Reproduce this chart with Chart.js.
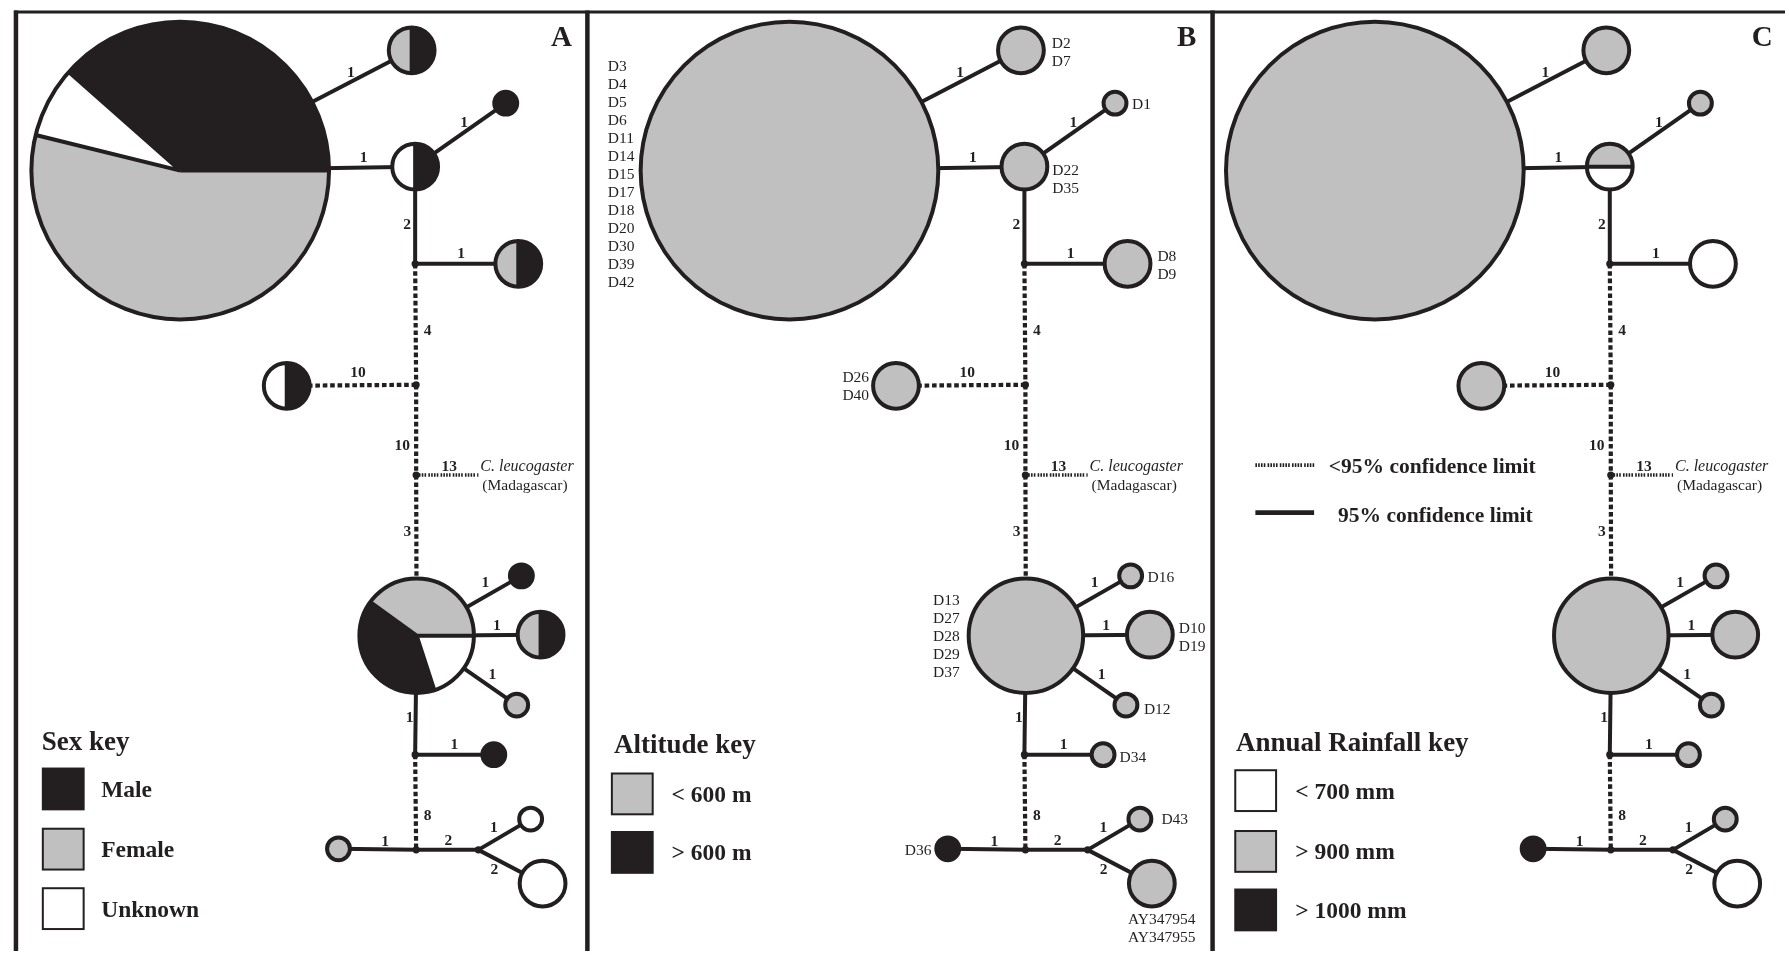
<!DOCTYPE html>
<html>
<head>
<meta charset="utf-8">
<title>Haplotype network</title>
<script src="https://cdn.jsdelivr.net/npm/chart.js@4.4.1/dist/chart.umd.min.js"></script>
<style>
  html, body { margin: 0; padding: 0; background: #ffffff; overflow: hidden; }
  canvas { display: block; }
</style>
</head>
<body>
<canvas id="net" width="1789" height="955"></canvas>
<script>
// ---- Haplotypes and the specimens carrying each one ----
const haplotypes = ['H1','H2','H3','H4','H5','H6','H7','H8','H9','H10','H11','H12','H13','H14'];
const specimens = [
  ['D3','D4','D5','D6','D11','D14','D15','D17','D18','D20','D30','D39','D42'],
  ['D2','D7'],
  ['D22','D35'],
  ['D1'],
  ['D8','D9'],
  ['D26','D40'],
  ['D13','D27','D28','D29','D37'],
  ['D16'],
  ['D10','D19'],
  ['D12'],
  ['D34'],
  ['D36'],
  ['D43'],
  ['AY347954','AY347955']
];
const sampleCounts = specimens.map(s => s.length);

// ---- Network layout (chart units, first panel) ----
const nodeX = [177, 409.5, 413, 504, 516.6, 284, 414.5, 519.7, 539, 515, 492, 336, 529, 541];
const nodeY = [168, 46.7, 164, 100, 262, 385, 637, 576.7, 636, 707, 757, 852, 822, 887];
const junctionIds = ['J1','J2','J3','J4','J5','J6','OUT'];
const junctionX = [413, 414, 414, 413, 414, 476.5, 476.5];
const junctionY = [262, 384, 475, 757, 853, 853, 475];

// ---- Links: mutational steps and support ----
const linkFrom = ['H1','H1','H3','H3','J1','J1','J2','J2','J3','J3','H7','H7','H7','H7','J4','J4','J5','J5','J6','J6'];
const linkTo   = ['H2','H3','H4','J1','H5','J2','H6','J3','OUT','H7','H8','H9','H10','J4','H11','J5','H12','J6','H13','H14'];
const linkSteps = [1,1,1,2,1,4,10,10,13,3,1,1,1,1,1,8,1,2,1,2];
const linkSupport = ['in','in','in','in','in','out','out','out','outgroup','out','in','in','in','in','in','out','in','in','in','in'];

// ---- Sex ----
const sexMale    = [5,1,1,1,1,1,2,1,1,0,1,0,0,0];
const sexFemale  = [7,1,0,0,1,0,2,0,1,1,0,1,0,0];
const sexUnknown = [1,0,1,0,0,1,1,0,0,0,0,0,1,2];
// ---- Altitude ----
const altBelow600 = [13,2,2,1,2,2,5,1,2,1,1,0,1,2];
const altAbove600 = [0,0,0,0,0,0,0,0,0,0,0,1,0,0];
// ---- Annual rainfall ----
const rainBelow700  = [0,0,1,0,2,0,0,0,0,0,0,0,0,2];
const rainAbove900  = [13,2,1,1,0,2,5,1,2,1,1,0,1,0];
const rainAbove1000 = [0,0,0,0,0,0,0,0,0,0,0,1,0,0];

// ---- Styling ----
const INK = '#231f20', GREY = '#c0c0c0', PAPER = '#ffffff';
const SERIF = '"Liberation Serif", "Times New Roman", serif';
const OUTLINE = 4;
const radiusFor = n => 11.5 * n;
const linkStyle = {
  in:       { width: 4,   dash: [] },
  out:      { width: 4.2, dash: [4.6, 2.8] },
  outgroup: { width: 3.4, dash: [1.6, 1.2, 1.6, 1.2, 1.6, 1.2, 1.6, 2.2] }
};
// label offset from the visible middle of each link
const stepLabelOffset = [[-1,-10],[3,-10.5],[-1,-10],[-8,-3],[6,-11],[12,6],[-5,-13],[-14,15],[2,-9],[-9,4],
                         [-3.5,-12.5],[1,-10],[7,-9],[-6,-7],[5.6,-10.3],[12,13],[2,-9],[1,-10],[-5.6,-10],[-6,7.7]];
// specimen label placement: [align, dx, dy]
const specimenPlacement = [['left',-182.5,4.5],['left',31,3],['left',28,13.5],['left',17,2],['left',30,2],
  ['right',-27,1.5],['right',-66.5,1],['left',17,2],['left',29,3],['left',18,4.7],['left',16.6,3],
  ['right',-16.3,2],['left',21.6,1],['center',10,46]];

const panels = [
  { letter: 'A', shift: 0, right: 586,
    classes: [ { label: 'Male', color: INK, counts: sexMale },
               { label: 'Female', color: GREY, counts: sexFemale },
               { label: 'Unknown', color: PAPER, counts: sexUnknown } ],
    sliceStart: 90, sliceOrder: [1, 2, 0],
    sliceOverride: { H1: { start: 0, order: [0, 2, 1] }, H7: { start: 0, order: [1, 0, 2] } },
    key: { title: 'Sex key', titleX: 38, titleY: 745, boxX: 39, boxY: [771, 831.7, 891.7], textX: 97.6 },
    names: false },
  { letter: 'B', shift: 612, right: 1214,
    classes: [ { label: '< 600 m', color: GREY, counts: altBelow600 },
               { label: '> 600 m', color: INK, counts: altAbove600 } ],
    sliceStart: 90, sliceOrder: [0, 1], sliceOverride: {},
    key: { title: 'Altitude key', titleX: 612.7, titleY: 748, boxX: 610.6, boxY: [776, 835], textX: 670.6 },
    names: true },
  { letter: 'C', shift: 1200, right: 1792,
    classes: [ { label: '< 700 mm', color: PAPER, counts: rainBelow700 },
               { label: '> 900 mm', color: GREY, counts: rainAbove900 },
               { label: '> 1000 mm', color: INK, counts: rainAbove1000 } ],
    sliceStart: 90, sliceOrder: [1, 0, 2],
    sliceOverride: { H3: { start: 0, order: [1, 0, 2] } },
    key: { title: 'Annual Rainfall key', titleX: 1237.6, titleY: 746.7, boxX: 1236.8, boxY: [772.7, 834, 893], textX: 1297 },
    names: false }
];
const panelEdges = [12, 586, 1214];

// ---- Geometry helpers ----
function pointOf(id) {
  const h = haplotypes.indexOf(id);
  if (h >= 0) return { x: nodeX[h], y: nodeY[h], r: radiusFor(sampleCounts[h]) };
  const j = junctionIds.indexOf(id);
  return { x: junctionX[j], y: junctionY[j], r: 0 };
}

// ---- Datasets: junction dots and links for each panel ----
const datasets = [];
datasets.push({
  label: 'junctions',
  data: panels.flatMap(p => junctionIds.filter(id => id !== 'OUT')
    .map(id => ({ x: pointOf(id).x + p.shift, y: pointOf(id).y }))),
  pointRadius: 3.6, pointBackgroundColor: INK, pointBorderWidth: 0,
  showLine: false, clip: false
});
panels.forEach(p => {
  linkFrom.forEach((from, i) => {
    const a = pointOf(from), b = pointOf(linkTo[i]);
    const st = linkStyle[linkSupport[i]];
    datasets.push({
      label: p.letter + ':' + from + '-' + linkTo[i],
      data: [{ x: a.x + p.shift, y: a.y }, { x: b.x + p.shift, y: b.y }],
      showLine: true, borderColor: INK, borderWidth: st.width, borderDash: st.dash,
      borderCapStyle: 'butt', pointRadius: 0, pointHoverRadius: 0, clip: false
    });
  });
});

// ---- Drawing of pie nodes, text and keys ----
function drawPie(ctx, cx, cy, r, slices, startDeg) {
  const total = slices.reduce((s, v) => s + v.n, 0);
  let a = startDeg * Math.PI / 180;
  const cuts = [];
  slices.filter(s => s.n > 0).forEach(s => {
    const a2 = a + s.n / total * 2 * Math.PI;
    ctx.beginPath();
    ctx.moveTo(cx, cy);
    ctx.arc(cx, cy, r, -a, -a2, true);
    ctx.closePath();
    ctx.fillStyle = s.color;
    ctx.fill();
    cuts.push(a);
    a = a2;
  });
  ctx.strokeStyle = INK;
  ctx.lineWidth = OUTLINE;
  if (cuts.length > 1) {
    ctx.beginPath();
    cuts.forEach(c => { ctx.moveTo(cx, cy); ctx.lineTo(cx + r * Math.cos(c), cy - r * Math.sin(c)); });
    ctx.stroke();
  }
  ctx.beginPath();
  ctx.arc(cx, cy, r, 0, 2 * Math.PI);
  ctx.stroke();
}

const networkPlugin = {
  id: 'network',
  beforeDatasetsDraw(chart) {
    const ctx = chart.ctx;
    const sx = chart.scales.x, sy = chart.scales.y;
    ctx.save();
    ctx.fillStyle = '#ffffff';
    ctx.fillRect(0, 0, chart.width, chart.height);
    ctx.strokeStyle = INK;
    ctx.lineWidth = 3;
    ctx.beginPath();
    ctx.moveTo(sx.getPixelForValue(10), sy.getPixelForValue(8));
    ctx.lineTo(sx.getPixelForValue(1789), sy.getPixelForValue(8));
    ctx.stroke();
    ctx.lineWidth = 4.5;
    panelEdges.forEach(x => {
      ctx.beginPath();
      ctx.moveTo(sx.getPixelForValue(x), sy.getPixelForValue(6.5));
      ctx.lineTo(sx.getPixelForValue(x), sy.getPixelForValue(955));
      ctx.stroke();
    });
    ctx.restore();
  },
  afterDatasetsDraw(chart) {
    const ctx = chart.ctx;
    const sx = chart.scales.x, sy = chart.scales.y;
    const px = (x) => sx.getPixelForValue(x);
    const py = (y) => sy.getPixelForValue(y);
    const len = (d) => Math.abs(sx.getPixelForValue(d) - sx.getPixelForValue(0));
    ctx.save();

    panels.forEach(p => {
      // haplotype pies
      haplotypes.forEach((h, i) => {
        const ov = p.sliceOverride[h] || {};
        const order = ov.order || p.sliceOrder;
        const start = ov.start !== undefined ? ov.start : p.sliceStart;
        const slices = order.filter(k => k < p.classes.length)
          .map(k => ({ n: p.classes[k].counts[i], color: p.classes[k].color }));
        drawPie(ctx, px(nodeX[i] + p.shift), py(nodeY[i]), len(radiusFor(sampleCounts[i])), slices, start);
      });

      // mutational step counts
      ctx.fillStyle = INK;
      ctx.font = 'bold 15.5px ' + SERIF;
      ctx.textAlign = 'center';
      ctx.textBaseline = 'middle';
      linkFrom.forEach((from, i) => {
        const a = pointOf(from), b = pointOf(linkTo[i]);
        const dx = b.x - a.x, dy = b.y - a.y, L = Math.hypot(dx, dy);
        const ux = dx / L, uy = dy / L;
        const s0x = a.x + ux * a.r, s0y = a.y + uy * a.r;
        const s1x = b.x - ux * b.r, s1y = b.y - uy * b.r;
        const mx = (s0x + s1x) / 2 + stepLabelOffset[i][0];
        const my = (s0y + s1y) / 2 + stepLabelOffset[i][1];
        ctx.fillText(String(linkSteps[i]), px(mx + p.shift), py(my) + 1);
      });

      // outgroup name
      const out = pointOf('OUT');
      ctx.textAlign = 'left';
      ctx.font = 'italic 16px ' + SERIF;
      ctx.fillText('C. leucogaster', px(out.x + 2 + p.shift), py(out.y - 8));
      ctx.font = '15.5px ' + SERIF;
      ctx.fillText('(Madagascar)', px(out.x + 4 + p.shift), py(out.y + 10.5));

      // specimen names
      if (p.names) {
        ctx.font = '15.5px ' + SERIF;
        specimens.forEach((list, i) => {
          const [align, dx, dy] = specimenPlacement[i];
          ctx.textAlign = align;
          const cx = nodeX[i] + p.shift + dx, cy = nodeY[i] + dy;
          list.forEach((name, k) => {
            ctx.fillText(name, px(cx), py(cy + (k - (list.length - 1) / 2) * 18.1));
          });
        });
      }

      // panel letter
      ctx.font = 'bold 29px ' + SERIF;
      ctx.textAlign = 'center';
      ctx.fillText(p.letter, px(p.right - 26), py(35));

      // key
      const k = p.key;
      ctx.textAlign = 'left';
      ctx.font = 'bold 27px ' + SERIF;
      ctx.fillText(k.title, px(k.titleX), py(k.titleY));
      ctx.font = 'bold 23.5px ' + SERIF;
      p.classes.forEach((c, i) => {
        ctx.fillStyle = c.color;
        ctx.fillRect(px(k.boxX), py(k.boxY[i]), len(41), len(41));
        ctx.strokeStyle = INK;
        ctx.lineWidth = 2;
        ctx.strokeRect(px(k.boxX), py(k.boxY[i]), len(41), len(41));
        ctx.fillStyle = INK;
        ctx.fillText(c.label, px(k.textX), py(k.boxY[i] + 22.5));
      });
    });

    // confidence key (third panel)
    ctx.strokeStyle = INK;
    ctx.lineCap = 'butt';
    ctx.lineWidth = 3.7;
    ctx.setLineDash(linkStyle.outgroup.dash);
    ctx.beginPath();
    ctx.moveTo(px(1257), py(465)); ctx.lineTo(px(1317), py(465));
    ctx.stroke();
    ctx.setLineDash([]);
    ctx.lineWidth = 4.7;
    ctx.beginPath();
    ctx.moveTo(px(1257), py(513)); ctx.lineTo(px(1316), py(513));
    ctx.stroke();
    ctx.fillStyle = INK;
    ctx.font = 'bold 21.5px ' + SERIF;
    ctx.textAlign = 'left';
    ctx.textBaseline = 'middle';
    ctx.fillText('<95% confidence limit', px(1330.7), py(467));
    ctx.fillText('95% confidence limit', px(1340), py(517));
    ctx.restore();
  }
};

new Chart(document.getElementById('net'), {
  type: 'scatter',
  data: { datasets },
  options: {
    responsive: false,
    animation: false,
    devicePixelRatio: 1,
    events: [],
    layout: { padding: 0 },
    plugins: { legend: { display: false }, tooltip: { enabled: false } },
    scales: {
      x: { type: 'linear', min: 0, max: 1789, display: false },
      y: { type: 'linear', min: 0, max: 955, reverse: true, display: false }
    }
  },
  plugins: [networkPlugin]
});
</script>
</body>
</html>
